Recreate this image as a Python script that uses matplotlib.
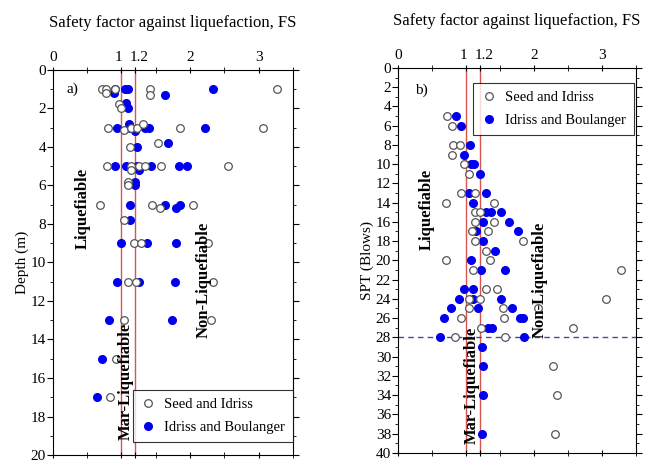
import numpy as np
import matplotlib
matplotlib.use("Agg")
import matplotlib.pyplot as plt
from matplotlib.ticker import MultipleLocator
from matplotlib.transforms import ScaledTranslation

plt.rcParams['font.family'] = ['Liberation Serif', 'DejaVu Serif']

# ---- panel a) : depth vs FS ----
seed_fs_a = [0.71, 0.78, 0.90, 1.41, 3.27, 0.77, 1.41,
             0.96, 1.00,
             0.80, 1.03, 1.14, 1.22, 1.31, 1.85, 3.06,
             1.13, 1.54,
             0.79, 1.14, 1.26, 1.35, 1.57, 2.56, 1.14,
             1.09, 1.10,
             0.69, 1.45, 1.56, 2.05,
             1.04,
             1.19, 1.29, 2.26,
             1.10, 1.21, 2.33,
             1.03, 2.30,
             0.92,
             0.83]
seed_dep_a = [1, 1, 1, 1, 1, 1.2, 1.3,
              1.8, 2.0,
              3, 3.15, 3, 3, 2.8, 3, 3,
              4.0, 3.8,
              5, 5, 5, 5, 5, 5, 5.2,
              5.8, 6.0,
              7, 7, 7.2, 7,
              7.8,
              9, 9, 9,
              11, 11, 11,
              13, 13,
              15,
              17]
ib_fs_a = [0.91, 1.05, 1.09, 2.33, 0.89, 1.63,
           1.06, 1.10,
           0.93, 1.11, 1.13, 1.20, 1.34, 1.40, 2.22,
           1.23, 1.68,
           0.91, 1.06, 1.23, 1.26, 1.43, 1.84, 1.96,
           1.20, 1.20,
           1.13, 1.64, 1.80, 1.86,
           1.13,
           1.00, 1.37, 1.79,
           0.94, 1.26, 1.78,
           0.82, 1.74,
           0.71,
           0.65]
ib_dep_a = [1, 1, 1, 1, 1.2, 1.3,
            1.75, 2.0,
            3, 2.8, 3, 3.2, 3, 3, 3,
            4.0, 3.8,
            5, 5, 5, 5.2, 5, 5, 5,
            5.8, 6.0,
            7, 7, 7.2, 7,
            7.8,
            9, 9, 9,
            11, 11, 11,
            13, 13,
            15,
            17]

# ---- panel b) : SPT vs FS ----
seed_fs_b = [0.72, 0.80, 0.81, 0.91, 0.79, 0.97, 1.04,
             0.92, 1.14, 0.71, 1.41, 1.14, 1.20, 1.13, 1.41,
             1.09, 1.32, 1.14, 1.84, 1.30, 0.70, 1.36, 1.11, 3.28,
             1.30, 1.46, 1.04, 1.20, 3.06, 1.04, 1.54, 2.06,
             0.92, 1.56, 1.22, 2.57, 0.84, 1.57, 2.28, 2.34, 2.31]
seed_spt_b = [5, 6, 8, 8, 9, 10, 11,
              13, 13, 14, 14, 15, 15, 16, 16,
              17, 17, 18, 18, 19, 20, 20, 21, 21,
              23, 23, 24, 24, 24, 25, 25, 25,
              26, 26, 27, 27, 28, 28, 31, 34, 38]
ib_fs_b = [0.86, 0.92, 1.06, 0.97, 1.08, 1.12, 1.21,
           1.04, 1.29, 1.10, 1.29, 1.37, 1.51, 1.25, 1.64,
           1.15, 1.77, 1.25, 1.43, 1.08, 1.22, 1.58,
           0.97, 1.10, 0.90, 1.11, 1.52, 0.78, 1.18, 1.68,
           0.68, 1.79, 1.84, 1.33, 1.38, 0.62, 1.85,
           1.24, 1.25, 1.25, 1.23]
ib_spt_b = [5, 6, 8, 9, 10, 10, 11,
            13, 13, 14, 15, 15, 15, 16, 16,
            17, 17, 18, 19, 20, 21, 21,
            23, 23, 24, 24, 24, 25, 25, 25,
            26, 26, 26, 27, 27, 28, 28,
            29, 31, 34, 38]

fs_ticks = [0, 1, 1.2, 2, 3]
fs_labels = ['0', '1', '1.2', '2', '3']
limits = [1.0, 1.2]

red = '#d9534f'
blue = '#0000ee'

fig = plt.figure(figsize=(6.45, 4.62), dpi=100)
ax1 = fig.add_axes([0.082, 0.015, 0.372, 0.834])
ax2 = fig.add_axes([0.617, 0.020, 0.369, 0.833])


def style(ax, ymax, ylabel):
    ax.set_xlim(0, 3.5)
    ax.set_ylim(ymax, 0)
    ax.xaxis.tick_top()
    ax.xaxis.set_label_position('top')
    ax.set_xticks(fs_ticks)
    ax.set_xticklabels(fs_labels)
    ax.xaxis.set_minor_locator(MultipleLocator(0.5))
    ax.yaxis.set_major_locator(MultipleLocator(2))
    ax.yaxis.set_minor_locator(MultipleLocator(1))
    ax.tick_params(axis='x', which='both', top=True, bottom=True,
                   direction='inout', labelsize=11, pad=2)
    ax.tick_params(axis='x', which='major', length=5)
    ax.tick_params(axis='x', which='minor', length=4)
    ax.tick_params(axis='y', which='both', left=True, right=True,
                   direction='out', labelsize=11, pad=1)
    ax.tick_params(axis='y', which='major', length=4)
    ax.tick_params(axis='y', which='minor', length=2)
    ax.set_xlabel('Safety factor against liquefaction, FS', fontsize=12,
                  labelpad=17)
    ax.set_ylabel(ylabel, fontsize=11, labelpad=1)
    # spread the close "1" and "1.2" labels apart a little
    labs = ax.get_xticklabels()
    labs[1].set_transform(labs[1].get_transform() +
                          ScaledTranslation(-2 / 72, 0, fig.dpi_scale_trans))
    labs[2].set_transform(labs[2].get_transform() +
                          ScaledTranslation(3 / 72, 0, fig.dpi_scale_trans))
    for v in limits:
        ax.axvline(v, color=red, lw=1.0, zorder=1)
    for s in ax.spines.values():
        s.set_linewidth(0.8)


style(ax1, 20, 'Depth (m)')
style(ax2, 40, 'SPT (Blows)')

ms = 5.5
ax1.plot(seed_fs_a, seed_dep_a, 'o', mfc='white', mec='#555555', mew=0.9,
         ms=ms, ls='none', label='Seed and Idriss', zorder=3)
ax1.plot(ib_fs_a, ib_dep_a, 'o', color=blue, ms=ms, ls='none',
         label='Idriss and Boulanger', zorder=2)
ax2.plot(seed_fs_b, seed_spt_b, 'o', mfc='white', mec='#555555', mew=0.9,
         ms=ms, ls='none', label='Seed and Idriss', zorder=3)
ax2.plot(ib_fs_b, ib_spt_b, 'o', color=blue, ms=ms, ls='none',
         label='Idriss and Boulanger', zorder=2)

ax2.axhline(28, color='#4a4a9a', lw=1.0, ls=(0, (4, 3)), zorder=1)

tk = dict(rotation=90, fontsize=12, fontweight='bold', ha='center',
          va='center')
ax1.text(0.43, 7.2, 'Liquefiable', **tk)
ax1.text(2.2, 10.9, 'Non-Liquefiable', **tk)
ax1.text(1.07, 16.2, 'Mar-Liquefiable', **tk)
ax2.text(0.43, 14.7, 'Liquefiable', **tk)
ax2.text(2.08, 22.0, 'Non-Liquefiable', **tk)
ax2.text(1.08, 33.0, 'Mar-Liquefiable', **tk)

ax1.text(0.2, 1.0, 'a)', fontsize=11, va='center')
ax2.text(0.25, 2.3, 'b)', fontsize=11, va='center')

lg = dict(fontsize=10.5, frameon=True, fancybox=False, edgecolor='black',
          handletextpad=0.6, borderpad=0.55, labelspacing=0.65,
          handlelength=1.0, borderaxespad=0)
l1 = ax1.legend(loc='lower right', bbox_to_anchor=(1.0, 0.034), **lg)
l2 = ax2.legend(loc='upper right', bbox_to_anchor=(0.99, 0.961), **lg)
for l in (l1, l2):
    l.get_frame().set_linewidth(0.8)

fig.savefig('out.png', dpi=100)
